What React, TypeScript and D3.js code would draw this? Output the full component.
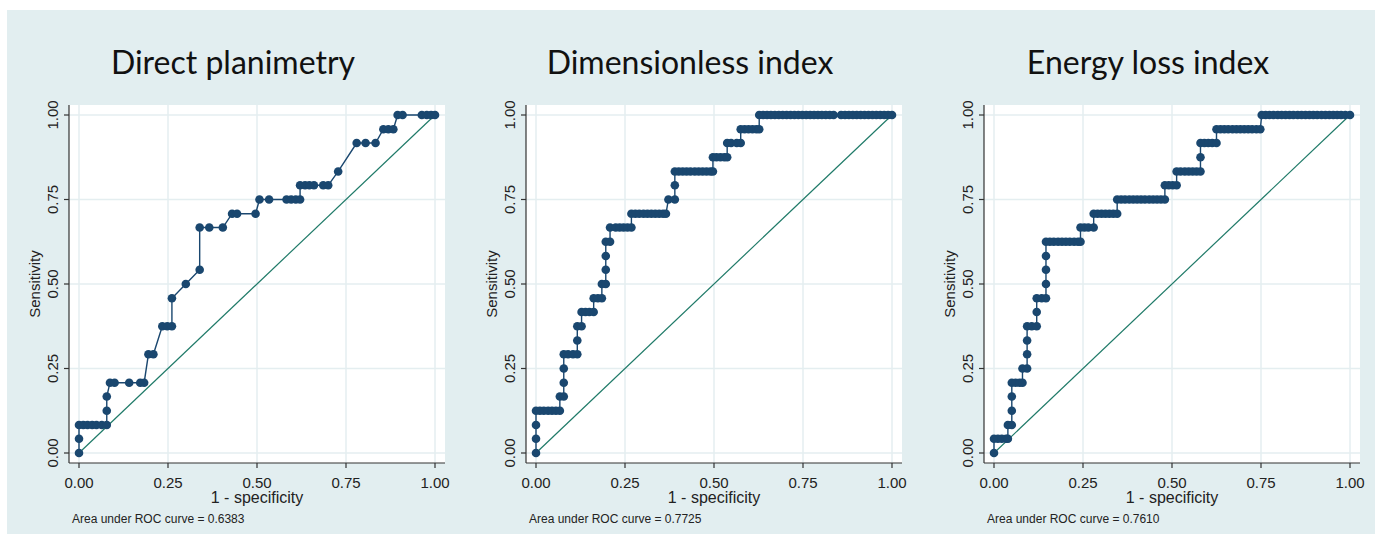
import React from 'react';
import * as d3 from 'd3';

// panel titles and AUC values
const titles = ['Direct planimetry', 'Dimensionless index', 'Energy loss index'];
const aucs = ['0.6383', '0.7725', '0.7610'];
const tickValues = [0, 0.25, 0.5, 0.75, 1];
const tickLabels = ['0.00', '0.25', '0.50', '0.75', '1.00'];

// [1 - specificity, sensitivity]
const planimetryRoc = [
  [0, 0], [0, 0.042], [0, 0.083], [0.012, 0.083], [0.024, 0.083], [0.037, 0.083], [0.049, 0.083],
  [0.064, 0.083], [0.078, 0.083], [0.078, 0.125], [0.078, 0.167], [0.087, 0.208], [0.1, 0.208],
  [0.141, 0.208], [0.172, 0.208], [0.183, 0.208], [0.195, 0.292], [0.209, 0.292], [0.234, 0.375],
  [0.248, 0.375], [0.261, 0.375], [0.261, 0.458], [0.3, 0.5], [0.339, 0.542], [0.339, 0.667],
  [0.366, 0.667], [0.404, 0.667], [0.43, 0.708], [0.444, 0.708], [0.496, 0.708], [0.507, 0.75],
  [0.534, 0.75], [0.583, 0.75], [0.596, 0.75], [0.609, 0.75], [0.621, 0.75], [0.621, 0.792],
  [0.635, 0.792], [0.647, 0.792], [0.66, 0.792], [0.686, 0.792], [0.7, 0.792], [0.728, 0.833],
  [0.78, 0.917], [0.805, 0.917], [0.833, 0.917], [0.855, 0.958], [0.869, 0.958], [0.883, 0.958],
  [0.895, 1], [0.909, 1], [0.963, 1], [0.977, 1], [0.989, 1], [1, 1],
];

const dimensionlessRoc = [
  [0, 0], [0, 0.042], [0, 0.083], [0, 0.125], [0.011, 0.125], [0.022, 0.125], [0.034, 0.125],
  [0.045, 0.125], [0.056, 0.125], [0.067, 0.125], [0.067, 0.167], [0.078, 0.167], [0.078, 0.208],
  [0.078, 0.25], [0.078, 0.292], [0.09, 0.292], [0.104, 0.292], [0.116, 0.292], [0.116, 0.333],
  [0.116, 0.375], [0.128, 0.375], [0.128, 0.417], [0.139, 0.417], [0.15, 0.417], [0.162, 0.417],
  [0.162, 0.458], [0.174, 0.458], [0.185, 0.458], [0.185, 0.5], [0.196, 0.5], [0.196, 0.542],
  [0.196, 0.583], [0.196, 0.625], [0.208, 0.625], [0.208, 0.667], [0.224, 0.667], [0.235, 0.667],
  [0.246, 0.667], [0.257, 0.667], [0.268, 0.667], [0.268, 0.708], [0.279, 0.708], [0.29, 0.708],
  [0.302, 0.708], [0.313, 0.708], [0.324, 0.708], [0.335, 0.708], [0.346, 0.708], [0.357, 0.708],
  [0.365, 0.708], [0.372, 0.75], [0.39, 0.75], [0.39, 0.792], [0.39, 0.833], [0.401, 0.833],
  [0.412, 0.833], [0.423, 0.833], [0.434, 0.833], [0.446, 0.833], [0.457, 0.833], [0.468, 0.833],
  [0.479, 0.833], [0.49, 0.833], [0.497, 0.833], [0.497, 0.875], [0.507, 0.875], [0.518, 0.875],
  [0.529, 0.875], [0.537, 0.875], [0.537, 0.917], [0.548, 0.917], [0.564, 0.917], [0.575, 0.917],
  [0.575, 0.958], [0.586, 0.958], [0.597, 0.958], [0.608, 0.958], [0.619, 0.958], [0.627, 0.958],
  [0.627, 1], [0.638, 1], [0.649, 1], [0.66, 1], [0.671, 1], [0.682, 1], [0.693, 1], [0.704, 1],
  [0.715, 1], [0.726, 1], [0.737, 1], [0.748, 1], [0.759, 1], [0.77, 1], [0.781, 1], [0.792, 1],
  [0.803, 1], [0.814, 1], [0.825, 1], [0.836, 1], [0.857, 1], [0.868, 1], [0.879, 1], [0.89, 1],
  [0.901, 1], [0.912, 1], [0.923, 1], [0.934, 1], [0.945, 1], [0.956, 1], [0.967, 1], [0.978, 1],
  [0.989, 1], [1, 1],
];

const energyLossRoc = [
  [0, 0], [0, 0.042], [0.011, 0.042], [0.022, 0.042], [0.034, 0.042], [0.039, 0.042], [0.039, 0.083],
  [0.05, 0.083], [0.05, 0.125], [0.05, 0.167], [0.05, 0.208], [0.061, 0.208], [0.072, 0.208],
  [0.08, 0.208], [0.08, 0.25], [0.093, 0.25], [0.093, 0.292], [0.093, 0.333], [0.093, 0.375],
  [0.106, 0.375], [0.12, 0.375], [0.12, 0.417], [0.12, 0.458], [0.134, 0.458], [0.146, 0.458],
  [0.146, 0.5], [0.146, 0.542], [0.146, 0.583], [0.146, 0.625], [0.157, 0.625], [0.168, 0.625],
  [0.18, 0.625], [0.191, 0.625], [0.202, 0.625], [0.213, 0.625], [0.225, 0.625], [0.236, 0.625],
  [0.243, 0.625], [0.243, 0.667], [0.254, 0.667], [0.265, 0.667], [0.28, 0.667], [0.28, 0.708],
  [0.291, 0.708], [0.302, 0.708], [0.313, 0.708], [0.324, 0.708], [0.335, 0.708], [0.346, 0.708],
  [0.346, 0.75], [0.357, 0.75], [0.368, 0.75], [0.38, 0.75], [0.391, 0.75], [0.402, 0.75],
  [0.413, 0.75], [0.424, 0.75], [0.436, 0.75], [0.447, 0.75], [0.458, 0.75], [0.469, 0.75],
  [0.48, 0.75], [0.48, 0.792], [0.491, 0.792], [0.502, 0.792], [0.513, 0.792], [0.513, 0.833],
  [0.524, 0.833], [0.536, 0.833], [0.547, 0.833], [0.558, 0.833], [0.569, 0.833], [0.58, 0.833],
  [0.58, 0.875], [0.58, 0.917], [0.591, 0.917], [0.602, 0.917], [0.613, 0.917], [0.625, 0.917],
  [0.625, 0.958], [0.636, 0.958], [0.647, 0.958], [0.658, 0.958], [0.67, 0.958], [0.681, 0.958],
  [0.692, 0.958], [0.703, 0.958], [0.714, 0.958], [0.725, 0.958], [0.737, 0.958], [0.748, 0.958],
  [0.752, 1], [0.763, 1], [0.774, 1], [0.785, 1], [0.797, 1], [0.808, 1], [0.819, 1], [0.83, 1],
  [0.841, 1], [0.853, 1], [0.864, 1], [0.875, 1], [0.886, 1], [0.897, 1], [0.908, 1], [0.92, 1],
  [0.931, 1], [0.942, 1], [0.953, 1], [0.964, 1], [0.975, 1], [0.987, 1], [1, 1],
];

const rocs = [planimetryRoc, dimensionlessRoc, energyLossRoc];

const W = 1379;
const H = 539;
const panelLeft = [79, 536, 994]; // pixel of x = 0 in each panel
const plotW = 356;
const yTop = 115;
const yBottom = 453;

const navy = '#1a476f';
const teal = '#1f7a68';
const gridCol = '#e4eef0';
const axisFont = 'Liberation Sans, Arial, sans-serif';

const Panel = ({ idx }) => {
  const x0 = panelLeft[idx];
  const x = d3.scaleLinear().domain([0, 1]).range([x0, x0 + plotW]);
  const y = d3.scaleLinear().domain([0, 1]).range([yBottom, yTop]);
  const line = d3.line().x((d) => x(d[0])).y((d) => y(d[1]));
  const data = rocs[idx];
  const left = x0 - 10;
  const right = x0 + plotW + 10;
  const top = yTop - 10;
  const bottom = yBottom + 10;

  return (
    <g>
      <text x={x0 + 154} y={74} textAnchor="middle" fontFamily="Lato, 'Open Sans', sans-serif"
        fontSize={32} fill="#111">{titles[idx]}</text>
      <rect x={left} y={top} width={right - left} height={bottom - top} fill="#fff" />
      {tickValues.map((t) => (
        <g key={t}>
          <line x1={x(t)} x2={x(t)} y1={top} y2={bottom} stroke={gridCol} strokeWidth={1.5} />
          <line x1={left} x2={right} y1={y(t)} y2={y(t)} stroke={gridCol} strokeWidth={1.5} />
        </g>
      ))}
      <line x1={x(0)} y1={y(0)} x2={x(1)} y2={y(1)} stroke={teal} strokeWidth={1.2} />
      <path d={line(data)} fill="none" stroke={navy} strokeWidth={1.4} />
      {data.map((d, i) => (
        <circle key={i} cx={x(d[0])} cy={y(d[1])} r={4.3} fill={navy} />
      ))}
      <line x1={left} x2={left} y1={top} y2={bottom} stroke="#333" strokeWidth={1.2} />
      <line x1={left} x2={right} y1={bottom} y2={bottom} stroke="#333" strokeWidth={1.2} />
      {tickValues.map((t, i) => (
        <g key={'t' + t}>
          <line x1={x(t)} x2={x(t)} y1={bottom} y2={bottom + 5} stroke="#333" strokeWidth={1.2} />
          <text x={x(t)} y={488} textAnchor="middle" fontFamily={axisFont} fontSize={15} fill="#222">
            {tickLabels[i]}
          </text>
          <line x1={left - 5} x2={left} y1={y(t)} y2={y(t)} stroke="#333" strokeWidth={1.2} />
          <text transform={`translate(${x0 - 21},${y(t)}) rotate(-90)`}
            textAnchor="middle" fontFamily={axisFont} fontSize={15} fill="#222">
            {tickLabels[i]}
          </text>
        </g>
      ))}
      <text transform={`translate(${x0 - 39},${(yTop + yBottom) / 2}) rotate(-90)`} textAnchor="middle"
        fontFamily={axisFont} fontSize={15} fill="#222">Sensitivity</text>
      <text x={x0 + plotW / 2} y={503} textAnchor="middle" fontFamily={axisFont} fontSize={16} fill="#222">
        1 - specificity
      </text>
      <text x={x0 - 7} y={523} fontFamily={axisFont} fontSize={12} fill="#222">
        Area under ROC curve = {aucs[idx]}
      </text>
    </g>
  );
};

export default function App() {
  return (
    <svg width={W} height={H} style={{ position: 'absolute', left: 0, top: 0 }}>
      <rect width={W} height={H} fill="#fff" />
      <rect x={7} y={10} width={1368} height={524} fill="#e2eef0" />
      {titles.map((t, i) => (
        <Panel key={t} idx={i} />
      ))}
    </svg>
  );
}
